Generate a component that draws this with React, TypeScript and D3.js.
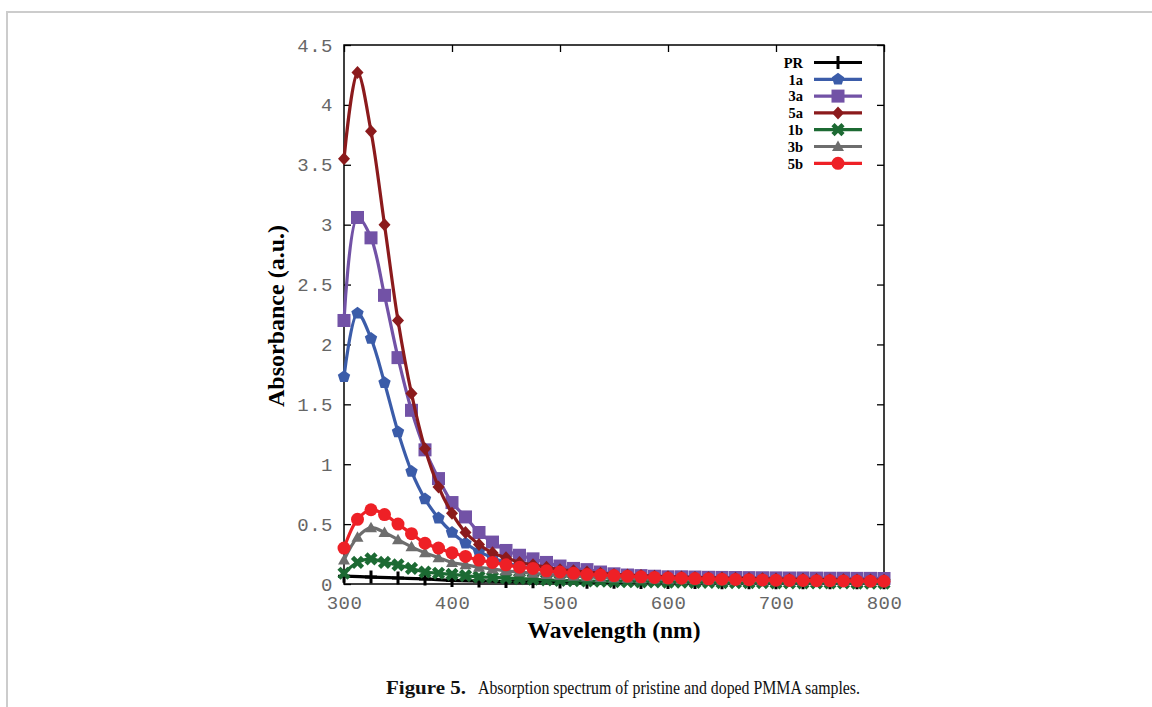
import React, { useEffect, useRef } from 'react';
import * as d3 from 'd3';

// wavelength grid (nm) of the doped samples, and the coarser grid of PR
const wavelength = [
  300, 312.5, 325, 337.5, 350, 362.5, 375, 387.5, 400, 412.5, 425, 437.5, 450, 462.5,
  475, 487.5, 500, 512.5, 525, 537.5, 550, 562.5, 575, 587.5, 600, 612.5, 625, 637.5,
  650, 662.5, 675, 687.5, 700, 712.5, 725, 737.5, 750, 762.5, 775, 787.5, 800,
];
const wavelengthPR = [
  300, 325, 350, 375, 400, 425, 450, 475, 500, 525, 550, 575, 600, 625, 650, 675, 700,
  725, 750, 775, 800,
];

const absPR = [
  0.065, 0.058, 0.05, 0.042, 0.03, 0.025, 0.02, 0.018, 0.016, 0.015, 0.014, 0.013, 0.012,
  0.012, 0.011, 0.011, 0.01, 0.01, 0.01, 0.01, 0.01,
];
const abs1a = [
  1.73, 2.26, 2.05, 1.68, 1.27, 0.94, 0.71, 0.55, 0.43, 0.34, 0.27, 0.22, 0.18, 0.15,
  0.13, 0.11, 0.09, 0.08, 0.07, 0.065, 0.06, 0.055, 0.05, 0.047, 0.045, 0.042, 0.04, 0.038,
  0.036, 0.035, 0.034, 0.033, 0.032, 0.031, 0.03, 0.03, 0.029, 0.028, 0.028, 0.027, 0.027,
];
const abs3a = [
  2.2, 3.06, 2.89, 2.41, 1.89, 1.45, 1.12, 0.88, 0.68, 0.56, 0.43, 0.35, 0.28, 0.24,
  0.21, 0.18, 0.15, 0.13, 0.12, 0.1, 0.085, 0.075, 0.07, 0.065, 0.06, 0.06, 0.058, 0.056,
  0.055, 0.054, 0.053, 0.052, 0.051, 0.05, 0.05, 0.049, 0.048, 0.048, 0.047, 0.047, 0.046,
];
const abs5a = [
  3.55, 4.27, 3.78, 3.0, 2.2, 1.59, 1.13, 0.81, 0.59, 0.43, 0.33, 0.26, 0.22, 0.18,
  0.16, 0.14, 0.12, 0.11, 0.1, 0.09, 0.08, 0.075, 0.07, 0.065, 0.06, 0.058, 0.055, 0.052,
  0.05, 0.048, 0.046, 0.044, 0.042, 0.04, 0.039, 0.038, 0.036, 0.035, 0.034, 0.033, 0.032,
];
const abs1b = [
  0.09, 0.18, 0.21, 0.18, 0.16, 0.13, 0.1, 0.09, 0.08, 0.07, 0.06, 0.055, 0.05, 0.045,
  0.04, 0.035, 0.03, 0.028, 0.025, 0.023, 0.02, 0.019, 0.018, 0.017, 0.016, 0.015, 0.014,
  0.013, 0.012, 0.012, 0.011, 0.011, 0.01, 0.01, 0.01, 0.009, 0.009, 0.009, 0.008, 0.008, 0.008,
];
const abs3b = [
  0.2, 0.39, 0.47, 0.43, 0.37, 0.31, 0.26, 0.22, 0.18, 0.16, 0.14, 0.125, 0.11, 0.1,
  0.09, 0.08, 0.07, 0.065, 0.06, 0.055, 0.05, 0.047, 0.044, 0.042, 0.04, 0.038, 0.036,
  0.034, 0.032, 0.03, 0.029, 0.028, 0.027, 0.026, 0.025, 0.024, 0.023, 0.022, 0.021, 0.02, 0.02,
];
const abs5b = [
  0.3, 0.54, 0.62, 0.58, 0.5, 0.42, 0.34, 0.3, 0.26, 0.23, 0.2, 0.18, 0.16, 0.14,
  0.13, 0.11, 0.1, 0.09, 0.08, 0.075, 0.07, 0.065, 0.06, 0.055, 0.05, 0.048, 0.045, 0.043,
  0.04, 0.038, 0.036, 0.034, 0.032, 0.03, 0.029, 0.028, 0.027, 0.026, 0.025, 0.024, 0.023,
];

const seriesNames = ['PR', '1a', '3a', '5a', '1b', '3b', '5b'];
const seriesColors = ['#000000', '#3b5ca9', '#7252a6', '#8b1a1c', '#1c6a33', '#6d6d6d', '#ee2026'];
const seriesMarkers = ['plus', 'pentagon', 'square', 'diamond', 'cross', 'triangle', 'circle'];

const xTicks = [300, 400, 500, 600, 700, 800];
const yTicks = [0, 0.5, 1, 1.5, 2, 2.5, 3, 3.5, 4, 4.5];

const pentagon = () => {
  let pts = d3.range(5).map((i) => {
    let a = ((-90 + 72 * i) * Math.PI) / 180;
    return [6.5 * Math.cos(a), 6.5 * Math.sin(a)];
  });
  return 'M' + pts.map((p) => p.join(',')).join('L') + 'Z';
};

function drawMarker(g, kind, color) {
  if (kind === 'plus') {
    g.append('path').attr('d', 'M-6,0H6M0,-6.5V6.5').attr('stroke', color).attr('stroke-width', 3);
  } else if (kind === 'cross') {
    g.append('path').attr('d', 'M-5,-5L5,5M5,-5L-5,5').attr('stroke', color).attr('stroke-width', 4.5);
  } else if (kind === 'square') {
    g.append('rect').attr('x', -6.5).attr('y', -6.5).attr('width', 13).attr('height', 13).attr('fill', color);
  } else if (kind === 'circle') {
    g.append('circle').attr('r', 6.5).attr('fill', color);
  } else {
    let d = {
      pentagon: pentagon(),
      diamond: 'M0,-6.5L6,0L0,6.5L-6,0Z',
      triangle: 'M0,-6L6,4.5L-6,4.5Z',
    }[kind];
    g.append('path').attr('d', d).attr('fill', color);
  }
}

export default function App() {
  const ref = useRef(null);

  useEffect(() => {
    let svg = d3.select(ref.current);
    svg.selectAll('*').remove();

    // plot box
    let left = 344, right = 884, top = 45, bottom = 584;
    let x = d3.scaleLinear().domain([300, 800]).range([left, right]);
    let y = d3.scaleLinear().domain([0, 4.5]).range([bottom, top]);

    // page frame
    svg.append('path')
      .attr('d', 'M7,707V12H1152')
      .attr('fill', 'none')
      .attr('stroke', '#cccccc')
      .attr('stroke-width', 2);

    let tickFont = (sel) =>
      sel.selectAll('text')
        .attr('font-family', '"Liberation Mono", "Courier New", monospace')
        .attr('font-size', 19)
        .attr('letter-spacing', 0.5)
        .attr('fill', '#666');

    let yAxis = svg.append('g').attr('transform', `translate(${left},0)`)
      .call(d3.axisLeft(y).tickValues(yTicks).tickSizeInner(-7).tickSizeOuter(0).tickPadding(11).tickFormat(d3.format('~g')));
    yAxis.call(tickFont);
    svg.append('g').attr('transform', `translate(${right},0)`)
      .call(d3.axisRight(y).tickValues(yTicks).tickSizeInner(-7).tickSizeOuter(0).tickFormat(() => ''));
    let xAxis = svg.append('g').attr('transform', `translate(0,${bottom})`)
      .call(d3.axisBottom(x).tickValues(xTicks).tickSizeInner(-7).tickSizeOuter(0).tickPadding(12).tickFormat(d3.format('d')));
    xAxis.call(tickFont);
    svg.append('g').attr('transform', `translate(0,${top})`)
      .call(d3.axisTop(x).tickValues(xTicks).tickSizeInner(-7).tickSizeOuter(0).tickFormat(() => ''));
    svg.selectAll('.domain').remove();
    svg.selectAll('.tick line').attr('stroke', '#000').attr('stroke-width', 1.3);

    svg.append('rect')
      .attr('x', left).attr('y', top)
      .attr('width', right - left).attr('height', bottom - top)
      .attr('fill', 'none').attr('stroke', '#000').attr('stroke-width', 1.5);

    // series
    let allY = [absPR, abs1a, abs3a, abs5a, abs1b, abs3b, abs5b];
    let line = d3.line()
      .x((d) => x(d[0]))
      .y((d) => y(d[1]))
      .curve(d3.curveCatmullRom.alpha(0.5));

    allY.forEach((vals, i) => {
      let xs = i === 0 ? wavelengthPR : wavelength;
      let pts = xs.map((w, k) => [w, vals[k]]);
      let g = svg.append('g');
      g.append('path')
        .attr('d', line(pts))
        .attr('fill', 'none')
        .attr('stroke', seriesColors[i])
        .attr('stroke-width', 3.2);
      pts.forEach((p) => {
        let m = g.append('g').attr('transform', `translate(${x(p[0])},${y(p[1])})`);
        drawMarker(m, seriesMarkers[i], seriesColors[i]);
      });
    });

    // legend
    seriesNames.forEach((name, i) => {
      let ly = 62.5 + i * 16.8;
      let g = svg.append('g');
      g.append('text')
        .attr('x', 803).attr('y', ly).attr('dy', '0.36em')
        .attr('text-anchor', 'end')
        .attr('font-family', '"Liberation Serif", "Times New Roman", serif')
        .attr('font-weight', 'bold')
        .attr('font-size', 14.5)
        .text(name);
      g.append('line')
        .attr('x1', 814).attr('x2', 862).attr('y1', ly).attr('y2', ly)
        .attr('stroke', seriesColors[i]).attr('stroke-width', 3.2);
      let m = g.append('g').attr('transform', `translate(838,${ly})`);
      drawMarker(m, seriesMarkers[i], seriesColors[i]);
    });

    // axis titles
    svg.append('text')
      .attr('transform', 'translate(284,316) rotate(-90)')
      .attr('text-anchor', 'middle')
      .attr('font-family', '"Liberation Serif", "Times New Roman", serif')
      .attr('font-weight', 'bold')
      .attr('font-size', 24)
      .text('Absorbance (a.u.)');
    svg.append('text')
      .attr('x', 614).attr('y', 638)
      .attr('text-anchor', 'middle')
      .attr('font-family', '"Liberation Serif", "Times New Roman", serif')
      .attr('font-weight', 'bold')
      .attr('font-size', 23.5)
      .text('Wavelength (nm)');

    // caption, two pieces
    let capFont = '"Liberation Serif", "Times New Roman", serif';
    svg.append('text')
      .attr('x', 386).attr('y', 694)
      .attr('font-family', capFont)
      .attr('font-size', 19.5)
      .attr('font-weight', 'bold')
      .attr('fill', '#111')
      .attr('textLength', 80)
      .attr('lengthAdjust', 'spacingAndGlyphs')
      .text('Figure 5.');
    svg.append('text')
      .attr('x', 478).attr('y', 694)
      .attr('font-family', capFont)
      .attr('font-size', 19.5)
      .attr('fill', '#111')
      .attr('textLength', 382)
      .attr('lengthAdjust', 'spacingAndGlyphs')
      .text('Absorption spectrum of pristine and doped PMMA samples.');
  }, []);

  return (
    <svg
      ref={ref}
      width={1152}
      height={707}
      style={{ position: 'absolute', left: 0, top: 0, background: '#fff' }}
    />
  );
}
